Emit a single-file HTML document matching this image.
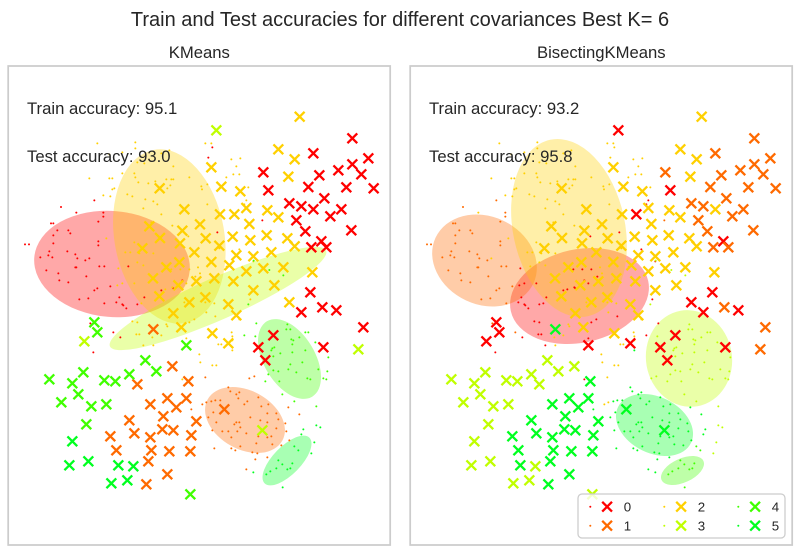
<!DOCTYPE html>
<html lang="en">
<head>
<meta charset="utf-8">
<title>Train and Test accuracies</title>
<style>
html,body{margin:0;padding:0;background:#fff;}
svg{display:block;}
text{font-family:"Liberation Sans",Arial,sans-serif;fill:#262626;}
</style>
</head>
<body>
<svg id="chart" xmlns="http://www.w3.org/2000/svg" width="800" height="550" viewBox="0 0 800 550">
  <rect x="0" y="0" width="800" height="550" fill="#fff"/>
  <text x="400" y="26" font-size="20" text-anchor="middle">Train and Test accuracies for different covariances Best K= 6</text>
  <g id="panel-left"></g>
  <g id="panel-right"></g>
  <g id="legend"></g>
</svg>
<script>
const classColors = ['#ff0000','#ff6a00','#ffd000','#c0ff00','#40ff00','#00ff20'];
const legendLabels = ['0','1','2','3','4','5'];
const panelTitles = ['KMeans','BisectingKMeans'];
const trainAccuracy = ['95.1','93.2'];
const testAccuracy = ['93.0','95.8'];

// Covariance ellipses: class, centre x, centre y, semi-major, semi-minor, angle (axis units)
const ellipsesKMeans = [
  [0,336,612,234,159,5],[1,735,1080,128,88,29],[2,508,529.5,264,165,80],
  [3,654,715.5,354.6,63,-23.9],[4,868.5,897,132,76.5,59],[5,861,1201.5,96,42,-45.7]
];
const ellipsesBisecting = [
  [0,532.5,708,211,140,-12.3],[1,247.5,601.5,162,132,25],[2,501,504,270.6,168,78],
  [3,861,895.5,145.5,129,80],[4,841.5,1231.5,69,36,-24.5],[5,757.5,1095,122,84.6,26.3]
];

// Test samples: x, y, KMeans class, BisectingKMeans class
const testSamples = [
[899,170,2,2],[835,268,2,2],[884,298,2,2],[865,350,2,2],[634,322,2,2],[664,380,2,2],[721,394,2,2],[479,385,2,2],[553,448,2,2],[739,444,2,2],
[802,451,2,2],[660,463,2,2],[703,463,2,0],[835,472,2,2],[748,492,2,2],[600,493,2,2],[448,499,2,2],[547,512,2,2],[480,534,2,2],[698,530,2,2],
[800,526,2,2],[617,535,2,2],[751,541,2,2],[862,535,2,2],[540,550,2,2],[658,557,2,2],[884,559,2,2],[427,565,2,2],[583,577,2,2],[709,586,2,2],
[760,589,2,2],[814,577,2,2],[634,606,2,2],[538,607,2,2],[499,622,2,2],[688,616,2,2],[850,622,2,2],[790,625,2,2],[739,634,2,2],[937,637,2,2],
[459,655,2,2],[643,655,2,2],[700,664,2,2],[589,664,2,2],[823,676,2,2],[535,676,2,2],[760,691,2,2],[478,709,2,2],[616,712,2,2],[568,727,2,2],
[685,733,2,2],[868,727,2,0],[520,760,2,2],[709,766,2,2],[544,802,2,2],[637,820,2,2],[685,850,2,0],[460,808,1,5],
[1057,235,0,1],[940,280,0,1],[1105,295,0,1],[1015,331,0,1],[1057,313,0,1],[790,337,0,1],[958,346,0,1],[1084,343,0,1],[925,381,0,1],[1039,382,0,1],
[1121,385,0,1],[805,391,0,0],[973,415,0,1],[868,430,0,1],[904,439,0,1],[940,448,0,2],[1024,448,0,1],[991,469,0,1],[889,481,0,1],[916,514,0,1],
[1054,511,0,1],[964,544,0,0],[934,562,0,1],[979,562,0,1],[931,697,0,0],[967,742,0,1],[904,757,0,0],[1009,751,0,0],[1090,802,0,1],[820,826,0,0],
[775,862,0,0],[970,862,0,0],[796,901,0,0],[1075,868,3,1],[649,211,3,0],[253,844,3,0],[787,1111,3,5],
[283,787,4,0],[292,817,4,0],[559,856,4,0],[436,901,4,3],[469,934,4,3],[250,937,4,3],[388,943,4,3],[148,958,4,3],[217,970,4,3],[313,961,4,3],
[346,964,4,3],[235,1003,4,3],[184,1027,4,3],[274,1039,4,3],[319,1033,4,3],[259,1093,4,3],[571,1303,4,3],
[517,919,1,3],[412,973,1,3],[565,964,1,5],[502,1015,1,5],[559,1015,1,5],[451,1033,1,5],[529,1042,1,5],[490,1069,1,5],[388,1081,1,5],[589,1084,1,5],
[673,1048,1,5],[487,1108,1,5],[520,1111,1,5],[403,1120,1,5],[331,1129,1,5],[451,1132,1,5],[574,1126,1,5],[349,1171,1,5],[454,1171,1,5],[508,1174,1,5],
[571,1174,1,5],[445,1204,1,5],[502,1243,1,5],[439,1273,1,5],
[217,1144,5,3],[208,1216,5,3],[265,1204,5,3],[355,1216,5,5],[400,1219,5,3],[382,1261,5,3],[334,1270,5,3]
];

// Train samples: x, y, KMeans class, BisectingKMeans class
const trainSamples = [
[75,553,0,1],[87,553,0,1],[153,490,0,1],[160,490,0,1],[183,441,0,1],[229,458,0,2],[283,421,0,1],[310,458,0,1],[295,485,0,1],[310,470,0,1],
[172,511,0,1],[205,511,0,1],[211,520,0,1],[160,526,0,1],[160,550,0,1],[295,544,0,1],[295,556,0,1],[148,574,0,1],[145,586,0,1],[121,592,0,1],
[157,592,0,1],[202,574,0,1],[226,583,0,1],[232,595,0,1],[268,595,0,2],[256,601,0,1],[139,631,0,1],[175,640,0,1],[226,622,0,1],[229,622,0,1],
[298,619,0,1],[313,619,0,1],[178,661,0,1],[205,667,0,1],[259,649,0,1],[283,691,0,1],[292,685,0,1],[238,718,0,1],[265,715,0,1],[331,679,0,1],
[358,712,0,0],[367,733,0,0],[379,745,0,0],[412,733,0,0],[313,730,0,1],[349,727,0,0],[370,736,0,0],[433,712,0,0],[484,691,0,0],[520,685,0,0],
[547,661,0,0],[385,619,0,2],[637,262,0,2],[625,293,0,2],[787,481,0,1],[652,517,0,0],[340,817,0,1],[361,832,0,0],[280,877,0,0],[271,790,0,1],
[292,250,2,2],[406,247,2,2],[616,250,2,2],[367,277,2,2],[406,265,2,2],[328,283,2,2],[508,271,2,2],[520,319,2,2],[484,280,2,2],[412,307,2,2],
[433,310,2,2],[403,340,2,2],[406,352,2,2],[367,340,2,2],[268,355,2,2],[328,355,2,2],[337,355,2,2],[343,385,2,2],[337,388,2,2],[382,403,2,2],
[397,409,2,2],[310,406,2,2],[331,409,2,2],[415,367,2,2],[445,370,2,2],[466,364,2,2],[499,358,2,2],[514,358,2,2],[520,358,2,2],[511,376,2,2],
[502,385,2,2],[568,352,2,2],[604,379,2,2],[622,373,2,2],[606,388,2,2],[436,418,2,2],[460,424,2,2],[472,433,2,2],[430,445,2,2],[484,463,2,2],
[622,433,2,2],[721,295,2,2],[694,298,2,2],[709,319,2,2],[700,343,2,2],[718,343,2,2],[745,382,2,2],[679,352,2,2],[517,497,2,2],[454,487,2,2],
[319,535,2,2],[403,547,2,2],[376,577,2,2],[391,577,2,2],[418,580,2,2],[412,607,2,2],[430,616,2,2],[355,625,2,0],[352,676,2,0],[367,670,2,0],
[594,622,2,2],[403,670,2,0],[634,250,2,2],[460,580,2,2],[600,640,2,2],[658,565,2,2],[680,620,2,2],
[739,421,2,0],[733,433,2,0],[514,628,2,0],[541,628,2,0],[568,628,2,0],[559,670,2,0],[496,688,2,0],[586,650,2,0],[517,682,2,0],[466,697,2,0],
[424,730,2,0],[751,718,2,0],[565,529,2,0],[718,568,2,0],[760,604,2,0],
[397,784,2,0],[412,787,2,0],[409,823,2,0],[418,823,2,0],[484,826,2,2],[457,832,2,2],[430,856,2,0],[460,856,2,2],[499,793,2,2],[502,799,2,2],
[583,778,2,0],[568,787,2,0],[619,757,2,2],[646,769,2,0],[553,727,2,2],[643,730,2,2],[616,727,2,2],[695,817,2,2],[697,829,2,2],[697,841,2,2],
[655,853,2,2],[664,853,2,2],[697,871,2,5],[718,778,2,2],[598,883,2,2],[601,907,2,2],[637,916,2,2],[649,916,2,2],[547,958,2,0],[559,835,2,0],
[733,826,4,0],[761,602,4,3],[808,630,4,3],[850,646,4,3],[745,733,4,3],
[769,790,4,0],[766,829,4,3],[862,793,4,3],[859,808,4,3],[871,808,4,3],[916,817,4,3],[925,817,4,3],[874,838,4,3],[880,841,4,3],[898,832,4,3],
[946,847,4,3],[823,862,4,3],[817,865,4,3],[814,871,4,3],[877,853,4,3],[916,871,4,3],[841,880,4,3],[877,877,4,3],[820,889,4,3],[985,892,4,3],
[907,907,4,3],[871,913,4,3],[955,928,4,3],[865,928,4,3],[820,931,4,3],[835,934,4,3],[889,937,4,3],[982,934,4,3],[805,943,4,3],[922,955,4,3],
[931,958,4,3],[970,955,4,3],[979,958,4,3],[838,964,4,3],[796,964,4,3],[847,1003,4,3],[883,1024,4,3],[949,1039,4,3],
[685,982,1,5],[691,994,1,5],[718,997,1,5],[709,1003,1,5],[715,1015,1,5],[775,1012,1,5],[607,1033,1,2],[619,1027,1,2],[634,1024,1,5],[646,1021,1,5],
[661,1021,1,5],[742,1024,1,5],[733,1033,1,5],[784,1039,1,5],[805,1033,1,5],[649,1087,1,5],[625,1072,1,5],[640,1057,1,5],[802,1060,1,5],[829,1060,1,5],
[751,1072,1,5],[781,1081,1,5],[802,1087,1,5],[835,1078,1,5],[718,1087,1,5],[703,1093,1,5],[709,1087,1,5],[721,1102,1,5],[829,1105,1,5],[856,1090,1,5],
[685,1114,1,5],[667,1114,1,5],[637,1111,1,5],[712,1114,1,5],[739,1120,1,5],[859,1114,1,5],[814,1129,1,5],[775,1129,1,5],[694,1132,1,5],[802,1132,1,5],
[769,1150,1,5],[817,1153,1,5],[643,1165,1,5],[694,1165,1,5],[706,1171,1,5],[721,1159,1,5],[757,1177,1,5],[772,1180,1,5],[802,1192,1,5],[766,1198,1,5],
[739,1228,1,5],[844,1156,1,5],[865,1042,1,5],[898,1063,1,5],[868,1141,1,5],[574,1048,1,5],[616,952,1,2],[748,955,1,3],[763,949,1,3],
[883,1159,5,4],[895,1171,5,4],[835,1201,5,4],[847,1213,5,4],[877,1210,5,4],[829,1225,5,4],[862,1228,5,4],[871,1225,5,4],[811,1234,5,4],[799,1243,5,4],
[760,1237,5,5],[848,1282,5,4],[904,1123,5,5],[910,1108,5,5],[943,1147,5,3],[934,1180,5,3],[961,1102,5,3],[949,1096,5,3]
];

const xDomain = [24,1170];
const yDomain = [18,1455];

const SVGNS = 'http://www.w3.org/2000/svg';
function make(tag, attrs, parent){
  const el = document.createElementNS(SVGNS, tag);
  for (const k in attrs) el.setAttribute(k, attrs[k]);
  parent.appendChild(el);
  return el;
}
function xAxis(v, range){ return range[0] + (v - xDomain[0]) * (range[1] - range[0]) / (xDomain[1] - xDomain[0]); }
function yAxis(v, range){ return range[0] + (v - yDomain[0]) * (range[1] - range[0]) / (yDomain[1] - yDomain[0]); }

function drawCross(parent, cx, cy, half, color, width){
  const d = 'M' + (cx-half) + ' ' + (cy-half) + 'L' + (cx+half) + ' ' + (cy+half) + 'M' + (cx-half) + ' ' + (cy+half) + 'L' + (cx+half) + ' ' + (cy-half);
  return make('path', {d: d, stroke: color, 'stroke-width': width, fill: 'none'}, parent);
}

function drawPanel(groupId, index, xRange, yRange, ellipses, classCol){
  const g = document.getElementById(groupId);
  const sx = (xRange[1]-xRange[0])/(xDomain[1]-xDomain[0]);
  const title = make('text', {x:(xRange[0]+xRange[1])/2+0.3, y:58, 'font-size':16.67, 'text-anchor':'middle'}, g);
  title.textContent = panelTitles[index];
  
  

  ellipses.forEach(function(e){
    const cx = xAxis(e[1], xRange), cy = yAxis(e[2], yRange);
    const el = make('ellipse', {cx:cx, cy:cy, rx:e[3]*sx, ry:e[4]*sx, fill:classColors[e[0]], 'fill-opacity':0.34,
      transform:'rotate(' + e[5] + ' ' + cx + ' ' + cy + ')'}, g);
    
    
  });

  trainSamples.slice().sort(function(a,b){return a[classCol]-b[classCol];}).forEach(function(p){
    const dot = make('circle', {cx:xAxis(p[0], xRange), cy:yAxis(p[1], yRange), r:1, fill:classColors[p[classCol]]}, g);
    
    
  });

  testSamples.slice().sort(function(a,b){return a[classCol]-b[classCol];}).forEach(function(p){
    const cross = drawCross(g, xAxis(p[0], xRange), yAxis(p[1], yRange), 4.9, classColors[p[classCol]], 2.3);
    
    
  });

  const frame = make('rect', {x:xRange[0]+0.2, y:yRange[0], width:xRange[1]-xRange[0], height:yRange[1]-yRange[0], fill:'none', stroke:'#cccccc', 'stroke-width':1.75}, g);
  
  

  const t1 = make('text', {x:xRange[0]+19, y:114, 'font-size':16.67}, g);
  t1.textContent = 'Train accuracy: ' + trainAccuracy[index];
  
  
  const t2 = make('text', {x:xRange[0]+19, y:162, 'font-size':16.67}, g);
  t2.textContent = 'Test accuracy: ' + testAccuracy[index];
  
  
}

drawPanel('panel-left', 0, [8,390], [66,545], ellipsesKMeans, 2);
drawPanel('panel-right', 1, [410,792], [66,545], ellipsesBisecting, 3);

(function drawLegend(){
  const g = document.getElementById('legend');
  const box = make('rect', {x:578,y:494,width:207,height:44,rx:4,ry:4,fill:'#fff','fill-opacity':0.8,stroke:'#cccccc','stroke-width':1.25}, g);
  
  
  const colX = [590.3,664.3,738.3];
  const rowY = [506.7,525.7];
  legendLabels.forEach(function(label, i){
    const col = Math.floor(i/2), row = i%2;
    const entry = make('g', {}, g);
    
    
    make('circle', {cx:colX[col], cy:rowY[row], r:1, fill:classColors[i]}, entry);
    drawCross(entry, colX[col]+16.8, rowY[row], 4.9, classColors[i], 2.3);
    const t = make('text', {x:colX[col]+33.4, y:rowY[row]+4.6, 'font-size':13.3}, entry);
    t.textContent = label;
  });
})();
</script>
</body>
</html>
